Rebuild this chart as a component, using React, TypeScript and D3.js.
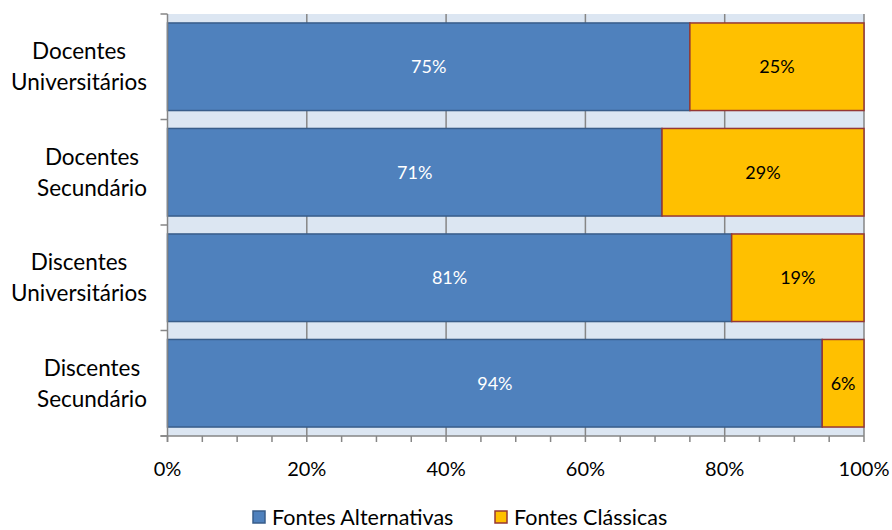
import React, { useEffect, useRef } from "react";
import * as d3 from "d3";

const categories: string[][] = [
  ["Docentes", "Universitários"],
  ["Docentes", "Secundário"],
  ["Discentes", "Universitários"],
  ["Discentes", "Secundário"],
];
const alternativas: number[] = [75, 71, 81, 94];
const classicas: number[] = [25, 29, 19, 6];
const xTicks: number[] = [0, 20, 40, 60, 80, 100];
const seriesNames: string[] = ["Fontes Alternativas", "Fontes Clássicas"];

const W = 892;
const H = 530;
const FONT = "Lato, 'Open Sans', sans-serif";

export default function App() {
  const ref = useRef<SVGSVGElement>(null);

  useEffect(() => {
    const svg = d3.select(ref.current);
    svg.selectAll("*").remove();

    const left = 167.5;
    const right = 864;
    const top = 14;
    const bottom = 436;

    const x = d3.scaleLinear().domain([0, 100]).range([left, right]);
    const keys = categories.map((_, i) => String(i));
    const y = d3.scaleBand().domain(keys).range([top, bottom]).paddingInner(0.17).paddingOuter(0.085);
    const band = (bottom - top) / keys.length;

    // plot background
    svg.append("rect")
      .attr("x", left).attr("y", top)
      .attr("width", right - left).attr("height", bottom - top)
      .attr("fill", "#dce6f2");

    // vertical gridlines
    svg.append("g").selectAll("line").data(xTicks.slice(1)).join("line")
      .attr("x1", (d) => x(d)).attr("x2", (d) => x(d))
      .attr("y1", top).attr("y2", bottom)
      .attr("stroke", "#868686").attr("stroke-width", 1.5);

    const stackRows = keys.map((k, i) => ({ k, a: alternativas[i], c: classicas[i] }));

    // blue segments
    svg.append("g").selectAll("rect").data(stackRows).join("rect")
      .attr("x", x(0))
      .attr("y", (d) => y(d.k)!)
      .attr("width", (d) => x(d.a) - x(0))
      .attr("height", y.bandwidth())
      .attr("fill", "#4f81bd")
      .attr("stroke", "#385d8a").attr("stroke-width", 1.5);

    // orange segments
    svg.append("g").selectAll("rect").data(stackRows).join("rect")
      .attr("x", (d) => x(d.a))
      .attr("y", (d) => y(d.k)!)
      .attr("width", (d) => x(d.a + d.c) - x(d.a))
      .attr("height", y.bandwidth())
      .attr("fill", "#ffc000")
      .attr("stroke", "#953735").attr("stroke-width", 1.5);

    // value labels
    svg.append("g").selectAll("text").data(stackRows).join("text")
      .attr("x", (d) => x(d.a / 2))
      .attr("y", (d) => y(d.k)! + y.bandwidth() / 2)
      .attr("dy", "0.35em")
      .attr("text-anchor", "middle")
      .attr("font-family", FONT).attr("font-size", 18)
      .attr("fill", "#ffffff")
      .text((d) => `${d.a}%`);
    svg.append("g").selectAll("text").data(stackRows).join("text")
      .attr("x", (d) => x(d.a + d.c / 2))
      .attr("y", (d) => y(d.k)! + y.bandwidth() / 2)
      .attr("dy", "0.35em")
      .attr("text-anchor", "middle")
      .attr("font-family", FONT).attr("font-size", 18)
      .attr("fill", "#000000")
      .text((d) => `${d.c}%`);

    // axes lines
    const axisColor = "#868686";
    svg.append("line")
      .attr("x1", left).attr("x2", left).attr("y1", top).attr("y2", bottom + 6)
      .attr("stroke", axisColor).attr("stroke-width", 1.5);
    svg.append("line")
      .attr("x1", left - 7).attr("x2", right).attr("y1", bottom).attr("y2", bottom)
      .attr("stroke", axisColor).attr("stroke-width", 1.5);

    // y ticks at band boundaries
    const yBounds = d3.range(keys.length + 1).map((i) => top + i * band);
    svg.append("g").selectAll("line").data(yBounds).join("line")
      .attr("x1", left - 7).attr("x2", left)
      .attr("y1", (d) => d).attr("y2", (d) => d)
      .attr("stroke", axisColor).attr("stroke-width", 1.5);

    // x ticks (major and minor)
    const minor = d3.range(0, 101, 5);
    svg.append("g").selectAll("line").data(minor).join("line")
      .attr("x1", (d) => x(d)).attr("x2", (d) => x(d))
      .attr("y1", bottom).attr("y2", bottom + 6)
      .attr("stroke", axisColor).attr("stroke-width", 1.5);

    // x tick labels
    svg.append("g").selectAll("text").data(xTicks).join("text")
      .attr("x", (d) => x(d))
      .attr("y", 476)
      .attr("text-anchor", "middle")
      .attr("font-family", FONT).attr("font-size", 20)
      .attr("fill", "#000")
      .text((d) => `${d}%`);

    // category labels: lines centered within a block right-aligned to the axis
    const catG = svg.append("g");
    categories.forEach((lines, i) => {
      const cy = top + (i + 0.5) * band;
      const t = catG.append("text")
        .attr("font-family", FONT).attr("font-size", 22.5)
        .attr("fill", "#000").attr("text-anchor", "middle");
      lines.forEach((ln, j) => {
        t.append("tspan").attr("x", 0).attr("y", cy + (j - (lines.length - 1) / 2) * 31).attr("dy", "0.35em").text(ln);
      });
      const widths: number[] = [];
      t.selectAll<SVGTSpanElement, unknown>("tspan").each(function () {
        widths.push(this.getComputedTextLength());
      });
      const maxW = d3.max(widths) ?? 0;
      t.selectAll("tspan").attr("x", 147 - maxW / 2);
    });

    // legend
    const colors = [["#4f81bd", "#385d8a"], ["#ffc000", "#953735"]];
    const legX = [253, 495];
    seriesNames.forEach((name, i) => {
      svg.append("rect")
        .attr("x", legX[i]).attr("y", 511)
        .attr("width", 12).attr("height", 12)
        .attr("fill", colors[i][0]).attr("stroke", colors[i][1]).attr("stroke-width", 1.5);
      svg.append("text")
        .attr("x", legX[i] + 19).attr("y", 517)
        .attr("dy", "0.35em")
        .attr("font-family", FONT).attr("font-size", 21.5)
        .attr("fill", "#000")
        .text(name);
    });
  }, []);

  return <svg ref={ref} width={W} height={H} style={{ display: "block", position: "absolute", left: 0, top: 0 }} />;
}
